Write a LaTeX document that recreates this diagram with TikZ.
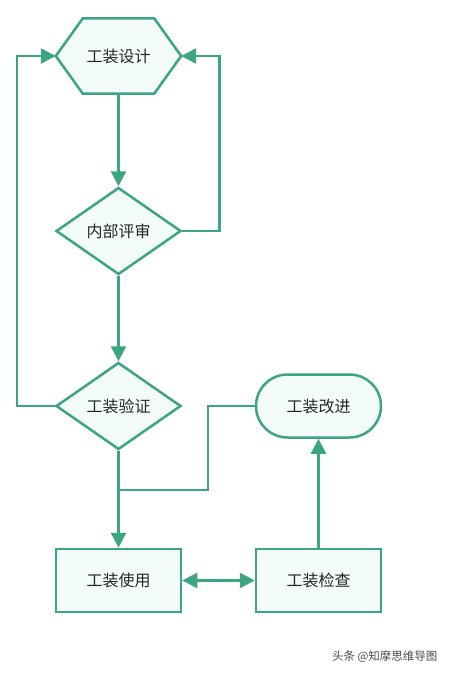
\documentclass[tikz,border=0pt]{standalone}
\usepackage{fontspec}
\newfontfamily\cjk{Noto Sans CJK SC}
\usepackage{tikz}
\usetikzlibrary{shapes.geometric,shapes.misc,arrows.meta}

\definecolor{flowline}{HTML}{3CA683}
\definecolor{flowfill}{HTML}{F3FCF8}
\definecolor{flowtext}{HTML}{262626}

\tikzset{
	flowbox/.style={draw=flowline,line width=2.5pt,fill=flowfill,text=flowtext,
		font=\cjk\fontsize{16}{19}\selectfont,inner sep=0pt},
	hexbox/.style={minimum width=125pt,minimum height=75pt,inner sep=0pt,
		text=flowtext,font=\cjk\fontsize{16}{19}\selectfont},
	decbox/.style={flowbox,diamond,aspect=1.44,minimum width=125pt,minimum height=87pt},
	recbox/.style={flowbox,rectangle,minimum width=125pt,minimum height=63pt},
	endbox/.style={flowbox,rounded rectangle,minimum width=125pt,minimum height=63pt},
	link/.style={draw=flowline,line width=2.5pt},
	arr/.style={link,-{Triangle[length=15pt,width=15pt]}},
	dblarr/.style={link,{Triangle[length=15pt,width=15pt]}-{Triangle[length=15pt,width=15pt]}}
}

\begin{document}
\begin{tikzpicture}[x=1pt,y=-1pt]
	\useasboundingbox[fill=white] (0,0) rectangle (448,673);
	
	% hexagon start
	\node[hexbox] (design) at (118.5,56) {};
	\draw[link,fill=flowfill] (design.west) -- ([xshift=27pt]design.north west)
		-- ([xshift=-27pt]design.north east) -- (design.east)
		-- ([xshift=-27pt]design.south east) -- ([xshift=27pt]design.south west) -- cycle;
	\node[hexbox] at (design) {工装设计};
	
	\node[decbox] (review) at (118.5,231) {内部评审};
	\node[decbox] (verify) at (118.5,406) {工装验证};
	\node[endbox] (improve) at (318.5,406) {工装改进};
	\node[recbox] (use) at (118.5,580.5) {工装使用};
	\node[recbox] (check) at (318.5,580.5) {工装检查};
	
	\coordinate (merge) at (118.5,490);
	
	\draw[arr] (design.south) -- (review.north);
	\draw[arr] (review.south) -- (verify.north);
	\draw[arr] (verify.south) -- (use.north);
	\draw[arr] (verify.west) -- ++(-38,0) |- (design.west);
	\draw[arr] (review.east) -- ++(37,0) |- (design.east);
	\draw[link] (improve.west) -- ++(-47,0) |- (merge);
	\draw[dblarr] (use.east) -- (check.west);
	\draw[arr] (check.north) -- (improve.south);
	
	% watermark
	\node[text=black!70,font=\cjk\fontsize{11.5}{13}\selectfont,anchor=east] (mark) at (441,657) {头条 @知摩思维导图};
\end{tikzpicture}
\end{document}
